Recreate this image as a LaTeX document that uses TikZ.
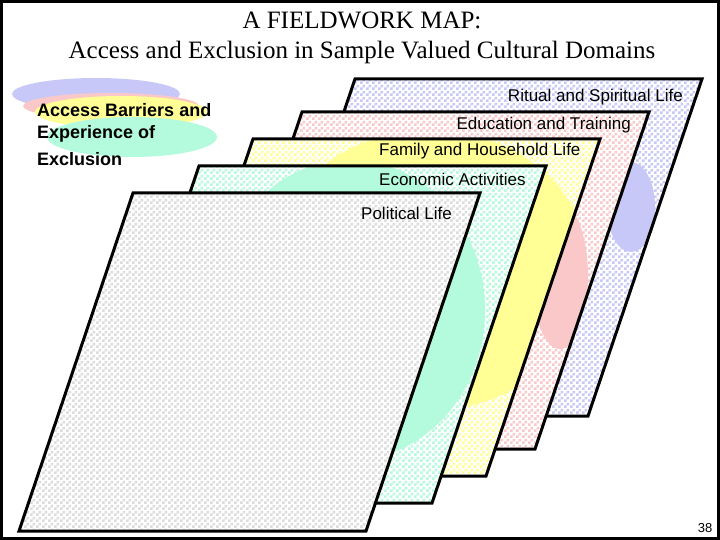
\documentclass[tikz,border=0pt]{standalone}
\usepackage{fontspec}
\setmainfont{Liberation Serif}
\setsansfont{Liberation Sans}
\usetikzlibrary{patterns}
\definecolor{cblue}{RGB}{200,200,248}
\definecolor{cpink}{RGB}{250,200,200}
\definecolor{cyel}{RGB}{255,255,150}
\definecolor{cgreen}{RGB}{180,250,220}
\definecolor{cgray}{RGB}{205,205,205}
\pgfdeclarepatternformonly{finecheck}{\pgfqpoint{0pt}{0pt}}{\pgfqpoint{6pt}{6pt}}{\pgfqpoint{6pt}{6pt}}{%
  \pgfpathrectangle{\pgfqpoint{0pt}{0pt}}{\pgfqpoint{3pt}{3pt}}%
  \pgfpathrectangle{\pgfqpoint{3pt}{3pt}}{\pgfqpoint{3pt}{3pt}}%
  \pgfusepath{fill}}
\begin{document}
\begin{tikzpicture}[x=1pt,y=-1pt,
  plane/.style={line width=3pt,line join=miter},
  lbl/.style={font=\sffamily\fontsize{17}{19}\selectfont,inner sep=0pt},
  leg/.style={font=\sffamily\bfseries\fontsize{18}{20}\selectfont,inner sep=0pt,anchor=base west}]
\useasboundingbox (0,0) rectangle (720,540);
\draw[line width=3pt] (1.5,1.5) rectangle (718.5,538.5);
\node[font=\fontsize{25}{30}\selectfont,align=center] (title) at (362,38) {A FIELDWORK MAP:\\Access and Exclusion in Sample Valued Cultural Domains};
% legend
\fill[cblue] (96,94) ellipse [x radius=84pt, y radius=16pt];
\fill[cpink] (111,106) ellipse [x radius=88pt, y radius=13pt];
\fill[cyel] (121,112) ellipse [x radius=86pt, y radius=16pt];
\fill[cgreen] (132,137) ellipse [x radius=85pt, y radius=20pt];
\node[leg] (l1) at (37,117) {Access Barriers and};
\node[leg] (l2) at (37,139) {Experience of};
\node[leg] (l3) at (37,166) {Exclusion};
\foreach \tx/\ty/\col/\ex/\ey/\erx/\ery in {355/79/cblue/631/207/24/45, 302/112/cpink/560/276/28/73, 253/139/cyel/430/270/160/140, 199/166/cgreen/350/310/135/150}{
  \fill[white] (\tx,\ty) -- ++(347,0) -- ++(-114,337) -- ++(-347,0) -- cycle;
  \fill[pattern=finecheck,pattern color=\col] (\tx,\ty) -- ++(347,0) -- ++(-114,337) -- ++(-347,0) -- cycle;
  \begin{scope}
    \clip (\tx,\ty) -- ++(347,0) -- ++(-114,337) -- ++(-347,0) -- cycle;
    \fill[\col] (\ex,\ey) ellipse [x radius=\erx pt, y radius=\ery pt];
  \end{scope}
  \draw[plane] (\tx,\ty) -- ++(347,0) -- ++(-114,337) -- ++(-347,0) -- cycle;
}
\fill[white] (133,193) -- ++(347,0) -- ++(-114,338) -- ++(-347,0) -- cycle;
\fill[pattern=finecheck,pattern color=cgray!70] (133,193) -- ++(347,0) -- ++(-114,338) -- ++(-347,0) -- cycle;
\draw[plane] (133,193) -- ++(347,0) -- ++(-114,338) -- ++(-347,0) -- cycle;
\node[lbl,anchor=east] (r) at (683,97) {Ritual and Spiritual Life};
\node[lbl,anchor=east] (e) at (631,125) {Education and Training};
\node[lbl,anchor=west] (f) at (379,151) {Family and Household Life};
\node[lbl,anchor=west] (ec) at (379,179) {Economic Activities};
\node[lbl,anchor=west] (p) at (361,213) {Political Life};
\node[font=\sffamily\fontsize{13}{14}\selectfont,inner sep=0pt] (num) at (705,528) {38};
\end{tikzpicture}
\end{document}
